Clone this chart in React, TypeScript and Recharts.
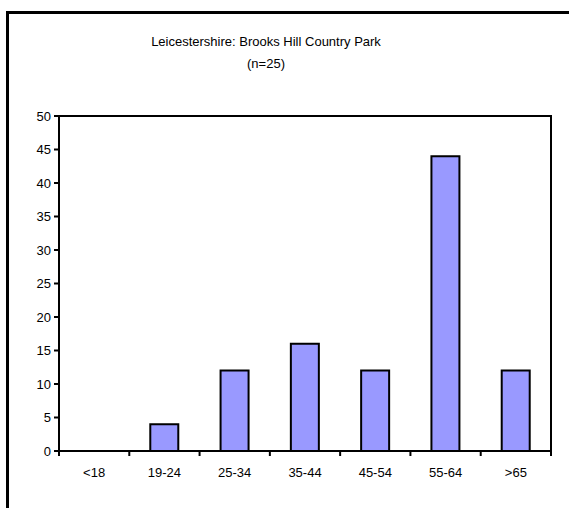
import { BarChart, Bar, XAxis, YAxis, ReferenceArea } from 'recharts';

// Age bands and share of respondents (%), n=25
const ageBands = ['<18', '19-24', '25-34', '35-44', '45-54', '55-64', '>65'];
const percentages = [0, 4, 12, 16, 12, 44, 12];
const yTicks = [0, 5, 10, 15, 20, 25, 30, 35, 40, 45, 50];

const data = ageBands.map((age, i) => ({ age, pct: percentages[i] }));

const W = 569;
const H = 508;
const margin = { top: 116, right: 18, left: 0, bottom: 27 };
const Y_AXIS_W = 59;
const plotW = W - margin.right - margin.left - Y_AXIS_W;
const step = plotW / ageBands.length;
const font = '"Liberation Sans", Arial, sans-serif';
const TICK_MARGIN = 11;

// category label centred in its band, with tick marks at the band edges
function AgeTick(props: any) {
  const { x, y, payload, index } = props;
  const axisY = y - TICK_MARGIN - 6;
  return (
    <g>
      <line x1={x - step / 2} x2={x - step / 2} y1={axisY} y2={axisY + 5} stroke="#000" strokeWidth={2} />
      {index === ageBands.length - 1 && (
        <line x1={x + step / 2} x2={x + step / 2} y1={axisY} y2={axisY + 5} stroke="#000" strokeWidth={2} />
      )}
      <text x={x} y={y} dy="0.71em" textAnchor="middle" fontSize={13} fill="#000" fontFamily={font}>
        {payload.value}
      </text>
    </g>
  );
}

export default function App() {
  return (
    <div style={{ position: 'absolute', left: 0, top: 0, width: W, height: H, overflow: 'hidden', background: '#fff' }}>
      {/* outer frame: only the left and top edges fall inside the view */}
      <svg width={W} height={H} style={{ position: 'absolute', left: 0, top: 0 }}>
        <path d={`M7.5 ${H} V12.5 H${W + 5}`} fill="none" stroke="#000" strokeWidth={3} />
      </svg>
      <div
        style={{
          position: 'absolute',
          left: 0,
          width: 532,
          top: 31,
          textAlign: 'center',
          fontFamily: font,
          fontSize: 13,
          lineHeight: '22px',
          color: '#000',
        }}
      >
        <div>Leicestershire: Brooks Hill Country Park</div>
        <div>(n=25)</div>
      </div>
      <div style={{ position: 'absolute', left: 0, top: 0 }}>
        <BarChart width={W} height={H} data={data} margin={margin}>
          <XAxis
            dataKey="age"
            tickLine={false}
            axisLine={{ stroke: '#000', strokeWidth: 2 }}
            tick={<AgeTick />}
            tickMargin={TICK_MARGIN}
            height={30}
            interval={0}
          />
          <YAxis
            width={Y_AXIS_W}
            domain={[0, 50]}
            ticks={yTicks}
            interval={0}
            tickSize={5}
            tickMargin={3}
            tickLine={{ stroke: '#000', strokeWidth: 2 }}
            axisLine={{ stroke: '#000', strokeWidth: 2 }}
            tick={{ fill: '#000', fontSize: 13, fontFamily: font }}
          />
          <ReferenceArea y1={0} y2={50} fill="none" stroke="#000" strokeWidth={2} ifOverflow="visible" />
          <Bar dataKey="pct" fill="#9999FF" stroke="#000" strokeWidth={2} barSize={28} isAnimationActive={false} />
        </BarChart>
      </div>
    </div>
  );
}
